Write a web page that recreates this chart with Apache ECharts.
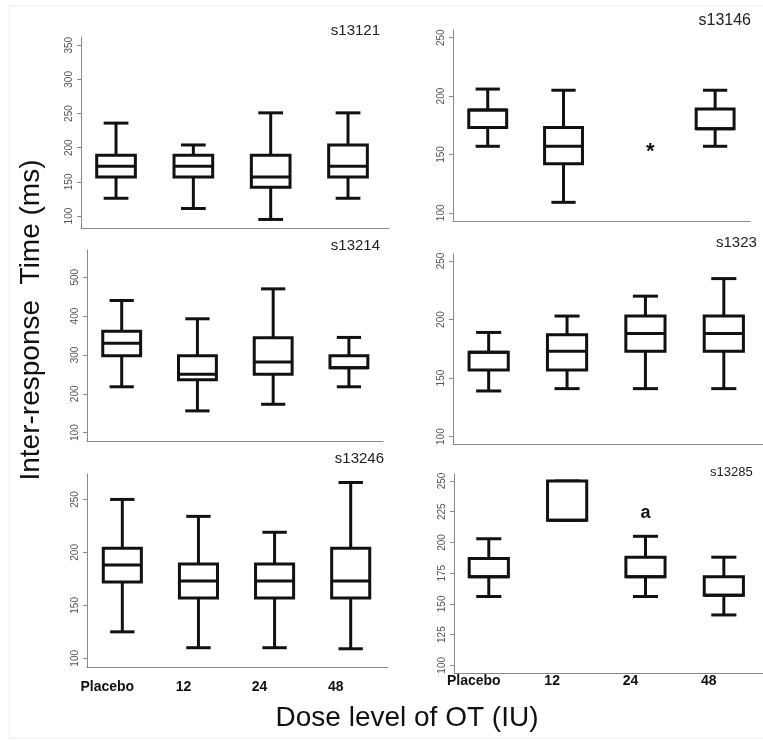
<!DOCTYPE html>
<html>
<head>
<meta charset="utf-8">
<script src="https://cdn.jsdelivr.net/npm/echarts@6/dist/echarts.min.js"></script>
<style>
html,body{margin:0;padding:0;background:#fff}
#main{width:763px;height:741px}
</style>
</head>
<body>
<div id="main"></div>
<script>
// dose groups on the x axis
const doses = ['Placebo', '12', '24', '48'];
const panelNames = ['s13121', 's13146', 's13214', 's1323', 's13246', 's13285'];

// each box: [min, q1, median, q3, max]
const s13121 = [[126, 157, 173, 189, 236], [111, 157, 173, 189, 204], [95, 142, 157, 189, 251], [126, 157, 173, 204, 251]];
const s13146 = [[157, 173, 188, 188, 206], [109, 142, 157, 173, 205], null, [157, 172, 172, 189, 205]];
const s13214 = [[218, 298, 330, 361, 440], [156, 236, 250, 298, 393], [173, 250, 282, 344, 470], [218, 267, 267, 298, 345]];
const s1323 = [[139, 157, 172, 172, 189], [141, 157, 173, 187, 203], [141, 173, 188, 203, 220], [141, 173, 188, 203, 235]];
const s13246 = [[125, 172, 188, 204, 250], [110, 157, 173, 189, 234], [110, 157, 173, 189, 219], [109, 157, 173, 204, 266]];
const s13285 = [[156, 172, 172, 187, 203], [218, 218, 218, 250, 250], [156, 172, 172, 188, 205], [141, 157, 157, 172, 188]];

// markers above single groups: [group index, value]
const s13146Star = [[2, 152]];
const s13285Mark = [[2, 224]];

// y tick labels per panel
const ticks13121 = [100, 150, 200, 250, 300, 350];
const ticks13146 = [100, 150, 200, 250];
const ticks13214 = [100, 200, 300, 400, 500];
const ticks1323 = [100, 150, 200, 250];
const ticks13246 = [100, 150, 200, 250];
const ticks13285 = [100, 125, 150, 175, 200, 225, 250];

const FONT = '"Liberation Sans", Arial, sans-serif';

const panels = [
  {data: s13121, ticks: ticks13121, left: 81, top: 37, width: 308, height: 191, x: [-0.453, 3.53], y: [82.5, 362]},
  {data: s13146, ticks: ticks13146, left: 453, top: 30, width: 297, height: 191, x: [-0.458, 3.46], y: [93, 256.6]},
  {data: s13214, ticks: ticks13214, left: 87, top: 250, width: 296, height: 191, x: [-0.458, 3.45], y: [78.5, 570]},
  {data: s1323, ticks: ticks1323, left: 453, top: 254, width: 321, height: 190, x: [-0.455, 3.5], y: [93.7, 256]},
  {data: s13246, ticks: ticks13246, left: 87, top: 474, width: 301, height: 193, x: [-0.464, 3.49], y: [91.8, 274], labels: 13},
  {data: s13285, ticks: ticks13285, left: 454, top: 474, width: 320, height: 199, x: [-0.444, 3.5], y: [93.75, 255.7], labels: 1}
];

function renderBox(params, api) {
  const x = api.value(0);
  const lo = api.coord([x, api.value(1)]);
  const q1 = api.coord([x, api.value(2)]);
  const md = api.coord([x, api.value(3)]);
  const q3 = api.coord([x, api.value(4)]);
  const hi = api.coord([x, api.value(5)]);
  const unit = api.size([1, 0])[0];
  const bw = unit * 0.25, cw = unit * 0.16;
  const cx = lo[0];
  const st = {stroke: '#111', lineWidth: 3, fill: null};
  const line = (x1, y1, x2, y2) => ({type: 'line', shape: {x1, y1, x2, y2}, style: st});
  return {
    type: 'group',
    children: [
      line(cx, hi[1], cx, q3[1]),
      line(cx, q1[1], cx, lo[1]),
      line(cx - cw, hi[1], cx + cw, hi[1]),
      line(cx - cw, lo[1], cx + cw, lo[1]),
      {type: 'rect', shape: {x: cx - bw, y: q3[1], width: bw * 2, height: q1[1] - q3[1]}, style: {stroke: '#111', lineWidth: 3, fill: '#fff'}},
      line(cx - bw, md[1], cx + bw, md[1])
    ]
  };
}

function renderMark(text, dx, size) {
  return function (params, api) {
    const p = api.coord([api.value(0), api.value(1)]);
    return {type: 'text', x: p[0] + dx, y: p[1],
      style: {text: text, fontSize: size, fontWeight: 'bold', fill: '#111', align: 'center', verticalAlign: 'middle', fontFamily: FONT}};
  };
}

const grid = [], xAxis = [], yAxis = [], series = [];
panels.forEach((p, i) => {
  grid.push({left: p.left, top: p.top, width: p.width, height: p.height});
  xAxis.push({
    type: 'value', gridIndex: i, min: p.x[0], max: p.x[1],
    splitLine: {show: false},
    axisLine: {onZero: false, lineStyle: {color: '#8a8a8a', width: 1}},
    axisTick: {show: false},
    axisLabel: {
      show: p.labels !== undefined, customValues: [0, 1, 2, 3],
      formatter: v => doses[v], margin: p.labels || 8,
      fontSize: 14, fontWeight: 'bold', color: '#111', fontFamily: FONT,
      padding: [0, 30, 0, 0]
    }
  });
  yAxis.push({
    type: 'value', gridIndex: i, min: p.y[0], max: p.y[1],
    splitLine: {show: false},
    axisLine: {show: true, onZero: false, lineStyle: {color: '#8a8a8a', width: 1}},
    axisTick: {show: true, customValues: p.ticks, length: 4, lineStyle: {color: '#8a8a8a'}},
    axisLabel: {customValues: p.ticks, rotate: 90, fontSize: 10, color: '#555', fontFamily: FONT, margin: 7}
  });
  const boxes = [];
  p.data.forEach((d, k) => { if (d) boxes.push([k].concat(d)); });
  series.push({type: 'custom', xAxisIndex: i, yAxisIndex: i, renderItem: renderBox, data: boxes, silent: true});
});
series.push({type: 'custom', xAxisIndex: 1, yAxisIndex: 1, renderItem: renderMark('*', 11, 22), data: s13146Star, silent: true});
series.push({type: 'custom', xAxisIndex: 5, yAxisIndex: 5, renderItem: renderMark('a', 0, 18), data: s13285Mark, silent: true});

const titlePos = [
  {x: 380, y: 31, align: 'right', size: 15},
  {x: 751, y: 21, align: 'right', size: 16},
  {x: 380, y: 246, align: 'right', size: 15},
  {x: 716, y: 243, align: 'left', size: 15},
  {x: 384, y: 459, align: 'right', size: 15},
  {x: 710, y: 472, align: 'left', size: 13}
];
const graphic = [
  {type: 'rect', shape: {x: 9, y: 6, width: 760, height: 732}, style: {stroke: '#eeeeee', fill: null, lineWidth: 1}, silent: true}
];
panelNames.forEach((n, i) => {
  const t = titlePos[i];
  graphic.push({type: 'text', x: t.x, y: t.y,
    style: {text: n, fontSize: t.size, fill: '#222', align: t.align, verticalAlign: 'middle', fontFamily: FONT}});
});
graphic.push({type: 'text', x: 31, y: 320, rotation: Math.PI / 2,
  style: {text: 'Inter-response  Time (ms)', fontSize: 28, fill: '#111', align: 'center', verticalAlign: 'middle', fontFamily: FONT}});
graphic.push({type: 'text', x: 407, y: 718,
  style: {text: 'Dose level of OT (IU)', fontSize: 28, fill: '#111', align: 'center', verticalAlign: 'middle', fontFamily: FONT}});

const chart = echarts.init(document.getElementById('main'));
chart.setOption({
  animation: false,
  backgroundColor: '#fff',
  grid: grid,
  xAxis: xAxis,
  yAxis: yAxis,
  series: series,
  graphic: graphic
});
</script>
</body>
</html>
